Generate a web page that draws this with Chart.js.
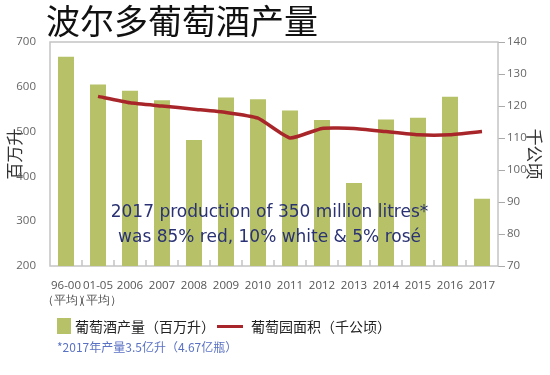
<!DOCTYPE html>
<html>
<head>
<meta charset="utf-8">
<script src="https://cdn.jsdelivr.net/npm/chart.js@4"></script>
<style>
  body { margin: 0; background: #fff; }
  #wrap { position: relative; width: 550px; height: 375px; }
  #title { position: absolute; left: 46px; top: 3px; font: 34px/1 "Noto Sans CJK SC"; color: #111; }
  #legend { position: absolute; left: 57px; top: 316px; font: 14px "Noto Sans CJK SC"; color: #222; display: flex; align-items: center; }
  #legend .box { width: 14px; height: 16px; background: #b7c268; margin-right: 4px; }
  #legend .line { width: 26px; height: 3px; background: #a8262a; margin: 0 8px 0 2px; }
  #note { position: absolute; left: 57px; top: 338px; font: 12px "Noto Sans CJK SC"; color: #5a72c4; }
</style>
</head>
<body>
<div id="wrap">
  <canvas id="chart_wine" width="550" height="375"></canvas>
  <div id="title">波尔多葡萄酒产量</div>
  <div id="legend"><span class="box"></span><span>葡萄酒产量（百万升）</span><span class="line"></span><span>葡萄园面积（千公顷）</span></div>
  <div id="note">*2017年产量3.5亿升（4.67亿瓶）</div>
</div>
<script>
const categories = [["96-00", "（平均）"], ["01-05", "（平均）"], "2006", "2007", "2008", "2009", "2010", "2011", "2012", "2013", "2014", "2015", "2016", "2017"];
const production = [667, 605, 591, 570, 481, 576, 572, 547, 526, 385, 527, 531, 578, 350];
const vineyardArea = [null, 123, 121, 120, 119, 118, 116.2, 110, 113, 113, 112, 111, 111, 112];
const noteLines = ["2017 production of 350 million litres*", "was 85% red, 10% white & 5% rosé"];

const frame = {
    id: 'frame',
    beforeDatasetsDraw(chart) {
        const a = chart.chartArea, ctx = chart.ctx, x = chart.scales.x;
        ctx.save();
        ctx.strokeStyle = '#c4c4c4';
        ctx.lineWidth = 1.5;
        ctx.strokeRect(a.left, a.top, a.right - a.left, a.bottom - a.top);
        // small inner tick marks between categories
        ctx.beginPath();
        for (let i = 0; i < categories.length - 1; i++) {
            const px = (x.getPixelForTick(i) + x.getPixelForTick(i + 1)) / 2;
            ctx.moveTo(px, a.bottom);
            ctx.lineTo(px, a.bottom - 6);
        }
        ctx.stroke();
        ctx.restore();
    },
    afterDatasetsDraw(chart) {
        const a = chart.chartArea, ctx = chart.ctx;
        ctx.save();
        ctx.fillStyle = '#2a3273';
        ctx.font = '17px "DejaVu Sans"';
        ctx.textAlign = 'center';
        ctx.textBaseline = 'middle';
        const cx = a.left + (a.right - a.left) * 0.49;
        ctx.fillText(noteLines[0], cx, 213);
        ctx.fillText(noteLines[1], cx, 238);
        ctx.restore();
    }
};

const tickFont = { family: 'Open Sans', size: 11.5 };

new Chart(document.getElementById('chart_wine'), {
    type: 'bar',
    data: {
        labels: categories,
        datasets: [
            { type: 'bar', label: '葡萄酒产量（百万升）', data: production, backgroundColor: '#b7c268', yAxisID: 'y', barPercentage: 0.5, categoryPercentage: 1, order: 2 },
            { type: 'line', label: '葡萄园面积（千公顷）', data: vineyardArea, borderColor: '#a8262a', borderWidth: 3.5, pointRadius: 0, tension: 0.15, yAxisID: 'y1', order: 1 }
        ]
    },
    options: {
        responsive: false,
        animation: false,
        layout: { padding: { top: 42 } },
        plugins: { legend: { display: false }, tooltip: { enabled: false } },
        scales: {
            x: {
                offset: true,
                grid: { display: false },
                border: { display: false },
                ticks: { color: '#555', font: { family: 'Open Sans', size: 11.5, lineHeight: 1.3 }, maxRotation: 0, autoSkip: false, padding: 4 },
                afterFit: s => { s.height = 109; }
            },
            y: {
                position: 'left',
                min: 200, max: 700,
                grid: { display: false },
                border: { display: false },
                ticks: { stepSize: 100, color: '#666', font: tickFont, padding: 6 },
                title: { display: true, text: '百万升', color: '#333', font: { family: 'Noto Sans CJK SC', size: 17 }, padding: { top: 4, bottom: 0 } },
                afterFit: s => { s.width = 50; }
            },
            y1: {
                position: 'right',
                min: 70, max: 140,
                grid: { drawOnChartArea: false, color: '#aaa', tickLength: 7 },
                border: { display: false },
                ticks: { stepSize: 10, color: '#666', font: tickFont, padding: 2 },
                title: { display: true, text: '千公顷', color: '#333', font: { family: 'Noto Sans CJK SC', size: 17 }, padding: { top: 5, bottom: 0 } },
                afterFit: s => { s.width = 52; }
            }
        }
    },
    plugins: [frame]
});
</script>
</body>
</html>
